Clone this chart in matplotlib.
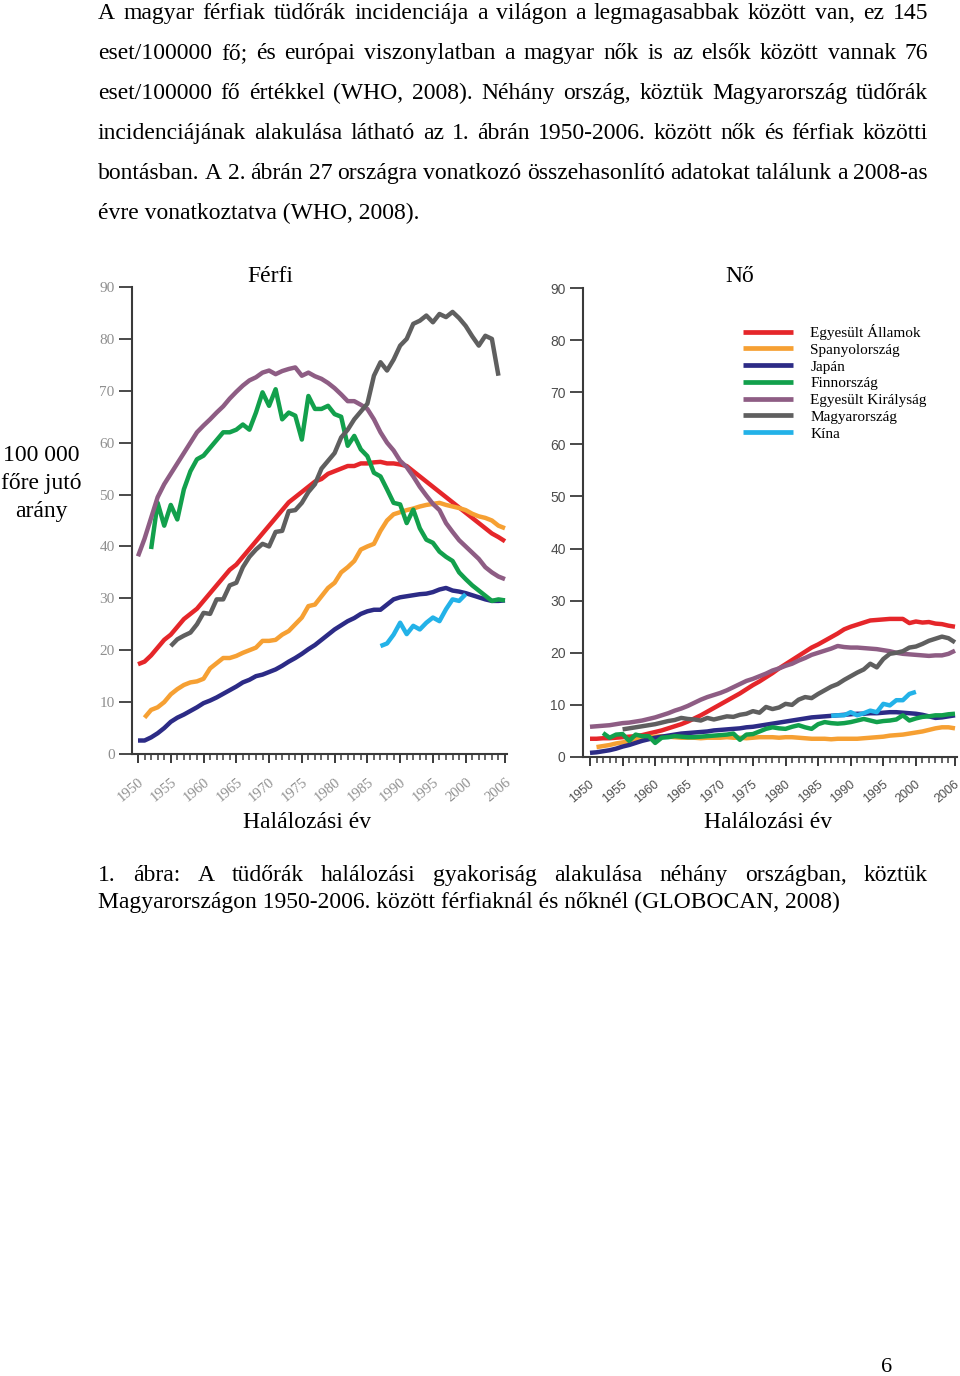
import numpy as np
import matplotlib
matplotlib.use("Agg")
import matplotlib.pyplot as plt
from matplotlib.transforms import ScaledTranslation

# ---- data (age-standardised lung cancer mortality per 100 000) ----
countries = ["Egyesült Államok", "Spanyolország", "Japán", "Finnország",
             "Egyesült Királyság", "Magyarország", "Kína"]
colors = ["#e5262a", "#f6a033", "#2c2b86", "#12a04c", "#8e5d84", "#5f5f5f", "#23b2e8"]
start_years = [1950, 1951, 1950, 1952, 1950, 1955, 1987]

usa_m = [17.3, 17.8, 19.0, 20.5, 22.0, 23.0, 24.5, 26.0, 27.0, 28.0,
         29.5, 31.0, 32.5, 34.0, 35.5, 36.5, 38.0, 39.5, 41.0, 42.5,
         44.0, 45.5, 47.0, 48.5, 49.5, 50.5, 51.5, 52.5, 53.0, 54.0,
         54.5, 55.0, 55.5, 55.5, 56.0, 56.0, 56.2, 56.3, 56.0, 56.0,
         55.8, 55.5, 54.5, 53.5, 52.5, 51.5, 50.5, 49.5, 48.5, 47.5,
         46.5, 45.5, 44.5, 43.5, 42.5, 41.8, 41.0]
spain_m = [7.0, 8.5, 9.0, 10.0, 11.5, 12.5, 13.3, 13.8, 14.0,
           14.5, 16.5, 17.5, 18.5, 18.5, 18.9, 19.5, 20.0, 20.5, 21.8,
           21.8, 22.0, 23.0, 23.7, 25.0, 26.3, 28.5, 28.8, 30.4, 32.0,
           33.0, 35.0, 36.0, 37.2, 39.4, 40.0, 40.5, 43.0, 45.0, 46.2,
           46.6, 47.0, 47.3, 47.7, 48.0, 48.2, 48.4, 48.0, 47.7, 47.4,
           47.0, 46.3, 45.8, 45.5, 45.0, 44.0, 43.5]
japan_m = [2.6, 2.6, 3.2, 4.0, 5.0, 6.2, 7.0, 7.6, 8.3, 9.0,
           9.8, 10.3, 10.9, 11.6, 12.3, 13.0, 13.8, 14.3, 15.0, 15.3,
           15.8, 16.3, 17.0, 17.8, 18.5, 19.3, 20.2, 21.0, 22.0, 23.0,
           24.0, 24.8, 25.6, 26.2, 27.0, 27.5, 27.8, 27.8, 28.8, 29.8,
           30.2, 30.4, 30.6, 30.8, 30.9, 31.2, 31.7, 32.0, 31.5, 31.3,
           31.0, 30.6, 30.2, 29.8, 29.5, 29.5, 29.6]
finland_m = [39.5, 48.4, 44.0, 48.0, 45.2, 51.0, 54.5, 56.8,
             57.5, 59.0, 60.5, 62.0, 62.0, 62.5, 63.5, 62.5, 65.8, 69.7,
             67.1, 70.3, 64.5, 65.8, 65.2, 60.6, 69.0, 66.5, 66.5, 67.1,
             65.5, 65.0, 59.4, 61.3, 58.7, 57.4, 54.2, 53.5, 51.0, 48.4,
             48.1, 44.5, 47.1, 43.5, 41.3, 40.7, 39.0, 38.0, 37.2, 35.0,
             33.7, 32.5, 31.5, 30.5, 29.5, 29.8, 29.6]
uk_m = [38.1, 41.5, 45.5, 49.5, 52.0, 54.0, 56.0, 58.0, 60.0, 62.0,
        63.3, 64.5, 65.8, 67.0, 68.5, 69.8, 71.0, 72.0, 72.6, 73.5,
        73.9, 73.2, 73.8, 74.2, 74.5, 72.9, 73.5, 72.8, 72.3, 71.5,
        70.5, 69.3, 68.0, 68.0, 67.3, 66.5, 64.5, 62.0, 60.0, 58.5,
        56.5, 55.3, 53.5, 51.5, 49.8, 48.2, 47.0, 44.5, 42.8, 41.2,
        40.0, 38.8, 37.6, 36.0, 35.0, 34.2, 33.7]
hungary_m = [20.8, 22.1, 22.8, 23.4, 25.0,
             27.2, 27.0, 29.8, 29.8, 32.5, 33.0, 36.0, 38.0, 39.4, 40.5,
             40.0, 42.8, 43.0, 46.8, 47.0, 48.4, 50.5, 52.0, 55.0, 56.5,
             58.0, 61.0, 62.5, 64.5, 66.0, 67.5, 72.9, 75.5, 73.9, 76.0,
             78.7, 80.0, 82.9, 83.5, 84.5, 83.2, 84.8, 84.2, 85.2, 84.0,
             82.5, 80.5, 78.7, 80.6, 80.0, 72.9]
china_m = [20.8, 21.3, 23.0, 25.3, 23.1, 24.7, 24.0, 25.3, 26.3, 25.6,
           27.9, 29.8, 29.5, 30.8]

usa_f = [3.5, 3.5, 3.6, 3.6, 3.7, 3.8, 3.9, 4.0, 4.2, 4.5,
         4.8, 5.1, 5.5, 5.9, 6.3, 6.8, 7.4, 8.0, 8.7, 9.4,
         10.1, 10.8, 11.5, 12.2, 13.0, 13.8, 14.5, 15.3, 16.1, 17.0,
         17.8, 18.6, 19.4, 20.2, 21.0, 21.6, 22.3, 23.0, 23.7, 24.5,
         25.0, 25.4, 25.8, 26.2, 26.3, 26.4, 26.5, 26.5, 26.5, 25.7,
         26.0, 25.8, 25.9, 25.6, 25.5, 25.2, 25.0]
spain_f = [1.9, 2.1, 2.3, 2.6, 2.8, 3.0, 3.3, 3.6, 3.8,
           3.9, 4.0, 3.9, 3.8, 3.7, 3.7, 3.7, 3.6, 3.7, 3.7,
           3.7, 3.8, 3.7, 3.7, 3.6, 3.7, 3.8, 3.8, 3.8, 3.7,
           3.8, 3.8, 3.7, 3.6, 3.5, 3.5, 3.5, 3.4, 3.5, 3.5,
           3.5, 3.5, 3.6, 3.7, 3.8, 3.9, 4.1, 4.2, 4.3, 4.5,
           4.7, 4.9, 5.2, 5.5, 5.7, 5.7, 5.5]
japan_f = [0.8, 0.9, 1.1, 1.3, 1.6, 2.0, 2.3, 2.7, 3.1, 3.4,
           3.7, 3.9, 4.1, 4.3, 4.5, 4.6, 4.7, 4.8, 4.9, 5.1,
           5.2, 5.3, 5.4, 5.5, 5.7, 5.8, 6.0, 6.2, 6.4, 6.6,
           6.8, 7.0, 7.2, 7.4, 7.6, 7.7, 7.8, 7.9, 8.0, 8.1,
           8.2, 8.3, 8.3, 8.4, 8.4, 8.5, 8.6, 8.6, 8.5, 8.4,
           8.3, 8.1, 7.8, 7.5, 7.6, 7.8, 8.0]
finland_f = [4.6, 3.7, 4.3, 4.4, 3.1, 4.3, 4.0, 4.0,
             2.7, 3.7, 3.8, 4.0, 3.9, 3.8, 3.8, 3.9, 4.0, 4.1,
             4.2, 4.3, 4.5, 3.3, 4.3, 4.4, 4.9, 5.4, 5.7, 5.5,
             5.4, 5.8, 6.1, 5.7, 5.4, 6.3, 6.7, 6.5, 6.4, 6.5,
             6.7, 7.0, 7.3, 7.0, 6.7, 6.9, 7.0, 7.2, 8.0, 7.0,
             7.4, 7.7, 7.8, 8.0, 8.0, 8.2, 8.3]
uk_f = [5.8, 5.9, 6.0, 6.1, 6.3, 6.5, 6.6, 6.8, 7.0, 7.3,
        7.6, 8.0, 8.4, 8.9, 9.3, 9.8, 10.4, 11.0, 11.5, 11.9,
        12.3, 12.8, 13.4, 14.0, 14.6, 15.0, 15.5, 16.0, 16.6, 17.0,
        17.5, 17.9, 18.5, 19.0, 19.6, 20.0, 20.4, 20.8, 21.3, 21.1,
        21.0, 21.0, 20.9, 20.8, 20.7, 20.5, 20.3, 20.0, 19.8, 19.7,
        19.6, 19.5, 19.4, 19.5, 19.5, 19.8, 20.4]
hungary_f = [5.3, 5.5, 5.7, 5.9, 6.1,
             6.3, 6.6, 6.9, 7.1, 7.5, 7.3, 7.2, 7.0, 7.5, 7.2,
             7.5, 7.8, 7.7, 8.1, 8.3, 8.8, 8.5, 9.6, 9.2, 9.5,
             10.2, 10.0, 11.0, 11.5, 11.3, 12.1, 12.8, 13.5, 14.0, 14.8,
             15.5, 16.2, 16.8, 17.9, 17.2, 18.8, 19.8, 20.0, 20.3, 21.0,
             21.2, 21.7, 22.3, 22.7, 23.1, 22.8, 22.0]
china_f = [7.9, 8.0, 8.0, 8.6, 8.0, 8.4, 8.9, 8.6, 10.2, 9.9,
           10.9, 10.9, 12.1, 12.5]

male = [usa_m, spain_m, japan_m, finland_m, uk_m, hungary_m, china_m]
female = [usa_f, spain_f, japan_f, finland_f, uk_f, hungary_f, china_f]

major_years = [1950, 1955, 1960, 1965, 1970, 1975, 1980, 1985, 1990, 1995, 2000, 2006]
y_ticks = list(range(0, 91, 10))

SERIF = "Liberation Serif"
W, H = 960, 1376

fig = plt.figure(figsize=(W / 100, H / 100), dpi=100)


def px_box(x0, y0, x1, y1):
    return [x0 / W, 1 - y1 / H, (x1 - x0) / W, (y1 - y0) / H]


def fy(y):
    return 1 - y / H


def setup_axis(ax, xlim, family, label_color, ysize, xsize, xpad, xshift):
    ax.set_xlim(*xlim)
    ax.set_ylim(0, 90)
    for s in ["top", "right"]:
        ax.spines[s].set_visible(False)
    for s in ["left", "bottom"]:
        ax.spines[s].set_color("#3a3a3a")
        ax.spines[s].set_linewidth(1.5)
    ax.set_yticks(y_ticks)
    ax.set_xticks(major_years)
    ax.set_xticks(np.arange(1950, 2007), minor=True)
    ax.set_xticklabels([str(y) for y in major_years])
    ax.tick_params(axis="y", length=9.5, width=1.3, color="#3a3a3a",
                   labelsize=ysize, labelcolor=label_color, pad=3)
    ax.tick_params(axis="x", which="major", length=6.5, width=1.4, color="#3a3a3a",
                   labelsize=xsize, labelcolor=label_color, pad=xpad)
    ax.tick_params(axis="x", which="minor", length=4.5, width=1.1, color="#3a3a3a")
    off = ScaledTranslation(xshift / 100, 0, fig.dpi_scale_trans)
    for lab in ax.get_xticklabels():
        lab.set_rotation(40)
        lab.set_ha("right")
        lab.set_va("top")
        lab.set_rotation_mode("anchor")
        lab.set_transform(lab.get_transform() + off)
    for lab in ax.get_yticklabels() + ax.get_xticklabels():
        lab.set_family(family)


ax1 = fig.add_axes(px_box(132, 287, 507, 754))
ax2 = fig.add_axes(px_box(583, 288, 957, 757))

for ax, series in [(ax1, male), (ax2, female)]:
    for name, vals, col, y0 in zip(countries, series, colors, start_years):
        yrs = np.arange(y0, y0 + len(vals))
        ax.plot(yrs, vals, color=col, lw=3.2, solid_capstyle="butt",
                solid_joinstyle="round", label=name)

setup_axis(ax1, (1949.085, 2006.305), SERIF, "#8f8f8f", 11.0, 10.5, 9.0, 0)
setup_axis(ax2, (1948.926, 2006.307), "Liberation Sans", "#4d4d4d", 10.0, 9.0, 9.0, -1)

leg = ax2.legend(loc="upper left", bbox_to_anchor=(743 / W, fy(324)),
                 bbox_transform=fig.transFigure, frameon=False,
                 prop={"family": SERIF, "size": 11}, handlelength=3.3,
                 handletextpad=1.1, labelspacing=0.2, borderpad=0,
                 borderaxespad=0)
for h in leg.get_lines():
    h.set_linewidth(3.4)

# ---- page text ----
FS = 17
renderer = fig.canvas.get_renderer()


def justified(line, x0, x1, yb, size=FS):
    words = line.split(" ")
    texts = [fig.text(0, 0, w, fontsize=size, family=SERIF, va="baseline") for w in words]
    widths = [t.get_window_extent(renderer).width for t in texts]
    gap = (x1 - x0 - sum(widths)) / (len(words) - 1)
    x = x0
    for t, w in zip(texts, widths):
        t.set_position((x / W, fy(yb)))
        x += w + gap


body = ["A magyar férfiak tüdőrák incidenciája a világon a legmagasabbak között van, ez 145",
        "eset/100000 fő; és európai viszonylatban a magyar nők is az elsők között vannak 76",
        "eset/100000 fő értékkel (WHO, 2008). Néhány ország, köztük Magyarország tüdőrák",
        "incidenciájának alakulása látható az 1. ábrán 1950-2006. között nők és férfiak közötti",
        "bontásban. A 2. ábrán 27 országra vonatkozó összehasonlító adatokat találunk a 2008-as"]
for i, line in enumerate(body):
    justified(line, 98, 928, 19 + 40 * i)
fig.text(98 / W, fy(219), "évre vonatkoztatva (WHO, 2008).", fontsize=FS,
         family=SERIF, va="baseline")

fig.text(270 / W, fy(282), "Férfi", fontsize=FS, family=SERIF, ha="center", va="baseline")
fig.text(740 / W, fy(282), "Nő", fontsize=FS, family=SERIF, ha="center", va="baseline")
for txt, yb in [("100 000", 461), ("főre jutó", 489), ("arány", 517)]:
    fig.text(41 / W, fy(yb), txt, fontsize=FS, family=SERIF, ha="center", va="baseline")
fig.text(307 / W, fy(828), "Halálozási év", fontsize=FS, family=SERIF, ha="center", va="baseline")
fig.text(768 / W, fy(828), "Halálozási év", fontsize=FS, family=SERIF, ha="center", va="baseline")

justified("1. ábra: A tüdőrák halálozási gyakoriság alakulása néhány országban, köztük",
          98, 928, 881)
fig.text(98 / W, fy(908),
         "Magyarországon 1950-2006. között férfiaknál és nőknél (GLOBOCAN, 2008)",
         fontsize=FS, family=SERIF, va="baseline")
fig.text(887 / W, fy(1372), "6", fontsize=16, family=SERIF, ha="center", va="baseline")

fig.savefig("out.png", dpi=100, facecolor="white")
